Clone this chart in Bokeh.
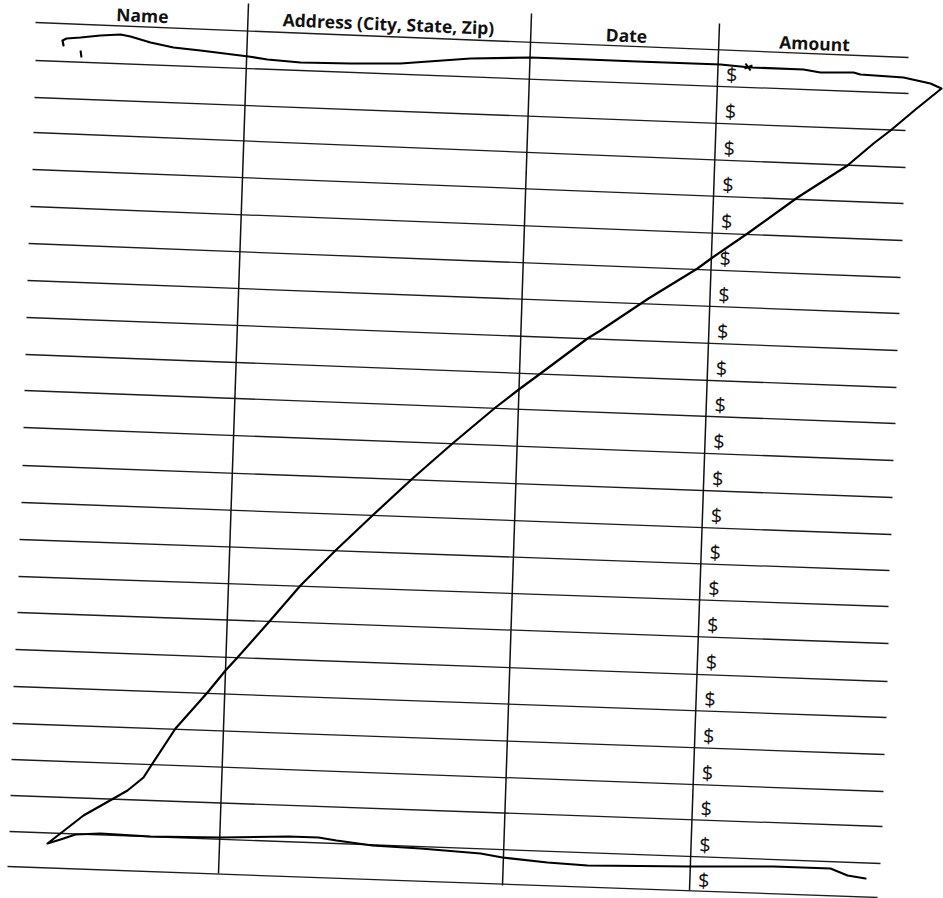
from bokeh.plotting import figure
from bokeh.models import Range1d
from bokeh.embed import file_html
from bokeh.resources import INLINE
from bokeh.core.properties import value

# ---- form data (page pixel coordinates of the scanned sheet) ----
header_labels = ["Name", "Address (City, State, Zip)", "Date", "Amount"]
header_x = [142, 388, 626, 814]
header_y = [14.5, 23, 34.5, 42.5]

# ruled horizontal lines: left / right ends
line_left_x = [35, 35, 34, 33, 32, 30, 28, 27, 26, 25, 24, 23, 22, 21, 19, 18, 17, 15, 13, 12, 11, 10, 9, 7]
line_left_y = [22, 60, 97, 132, 169, 206, 243, 280, 317, 354, 390, 427, 465, 502, 539, 576, 612, 649, 686, 723, 759, 795, 831, 866]
line_right_x = [908, 908, 905, 905, 903, 902, 900, 899, 897, 896, 895, 893, 892, 891, 889, 888, 888, 887, 886, 884, 883, 882, 880, 877]
line_right_y = [57, 93, 130, 167, 203, 240, 277, 313, 350, 387, 423, 460, 497, 534, 570, 606, 643, 681, 717, 754, 791, 826, 863, 897]

# column separators: top / bottom ends
col_top_x = [248, 531, 719]
col_top_y = [3, 13, 23]
col_bot_x = [218, 502, 689]
col_bot_y = [873, 885, 890]

# handwritten strike-through stroke
stroke_x = [63, 62, 66, 80, 100, 120, 130, 150, 173, 200, 248, 267, 300, 350, 400, 470, 530, 587, 637, 720, 750,
            803, 820, 853, 860, 903, 930, 941,
            915, 890, 873, 847, 797, 747, 712, 697, 648, 600, 587, 540, 517, 495, 452, 412, 372, 335, 300,
            268, 237, 225, 207, 175, 152, 143, 127, 113, 83, 47,
            60, 75, 100, 150, 220, 288, 318, 336, 372, 420, 480, 502, 547, 587, 690, 773, 830, 847, 865]
stroke_y = [45, 40, 38, 37, 35, 34, 36, 42, 47, 50, 56, 59, 62, 63, 63, 58, 57, 59, 61, 64, 67,
            69, 72, 72, 74, 77, 83, 88,
            109, 130, 143, 165, 197, 233, 257, 268, 298, 330, 338, 373, 390, 407, 443, 478, 515, 550, 585,
            622, 657, 670, 692, 728, 763, 777, 790, 798, 815, 843,
            839, 834, 833, 836, 837, 836, 837, 840, 845, 848, 853, 857, 862, 865, 866, 866, 868, 875, 878]
mark_xs = [[80, 81], [745, 750], [744, 752]]
mark_ys = [[50, 57], [63, 70], [68, 65]]

n_rows = len(line_left_y) - 1
dollar_label = "$"

# ---- figure ----
p = figure(width=943, height=898, x_range=Range1d(0, 943), y_range=Range1d(898, 0),
           output_backend="svg", toolbar_location=None, min_border=0)
p.axis.visible = False
p.grid.visible = False
p.outline_line_color = None
p.background_fill_color = "white"
p.border_fill_color = "white"

# ruled lines
p.segment(x0=line_left_x, y0=line_left_y, x1=line_right_x, y1=line_right_y,
          line_color="#1c1c1c", line_width=1.3)
# column lines
p.segment(x0=col_top_x, y0=col_top_y, x1=col_bot_x, y1=col_bot_y,
          line_color="#111111", line_width=1.5)

# header texts
p.text(x=header_x, y=header_y, text=header_labels, text_font=value("Open Sans"),
       text_font_style="bold", text_font_size="17.5px", text_align="center",
       text_baseline="middle", angle=-0.04, text_color="#111111")

# dollar signs, one per row, beside the amount column line
def line_y_at(k, x):
    return line_left_y[k] + (line_right_y[k] - line_left_y[k]) * (x - line_left_x[k]) / (line_right_x[k] - line_left_x[k])

def col_x_at(c, y):
    return col_top_x[c] + (col_bot_x[c] - col_top_x[c]) * (y - col_top_y[c]) / (col_bot_y[c] - col_top_y[c])

dx, dy = [], []
for k in range(n_rows):
    x_guess = col_x_at(2, (line_left_y[k] + line_left_y[k + 1]) / 2 + 40) + 14
    yc = (line_y_at(k, x_guess) + line_y_at(k + 1, x_guess)) / 2 + 6
    dx.append(col_x_at(2, yc) + 14)
    dy.append(yc)
p.text(x=dx, y=dy, text=[dollar_label] * n_rows, text_font=value("Open Sans"),
       text_font_size="20px", text_align="center", text_baseline="middle",
       angle=-0.04, text_color="#111111")

# handwriting
p.line(stroke_x, stroke_y, line_color="black", line_width=2.2, line_join="round", line_cap="round")
p.multi_line(xs=mark_xs, ys=mark_ys, line_color="black", line_width=2.0)

open("out.html", "w").write(file_html(p, INLINE))
